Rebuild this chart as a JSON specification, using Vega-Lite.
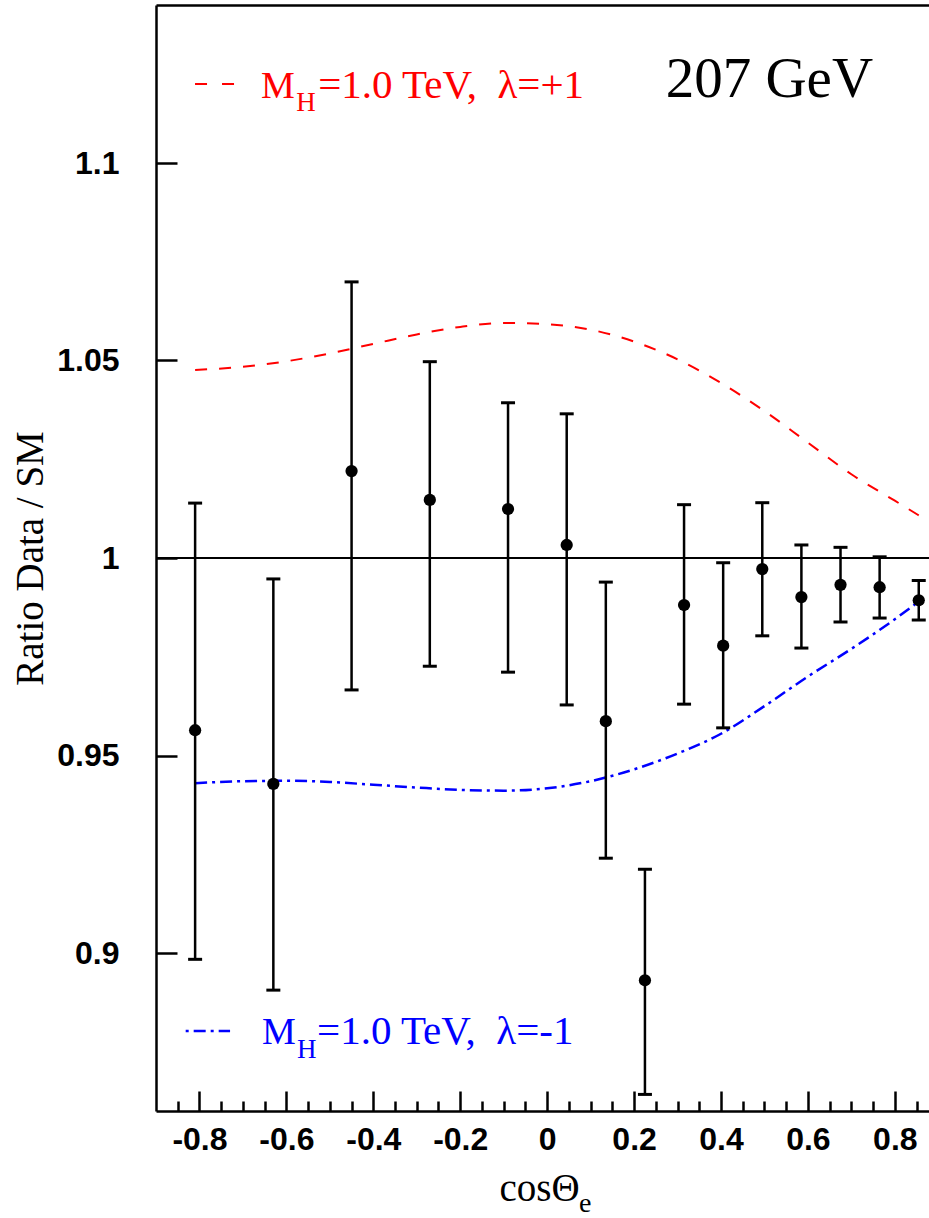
{
  "$schema": "https://vega.github.io/schema/vega-lite/v6.json",
  "width": 773,
  "height": 1106,
  "autosize": {"type": "none"},
  "padding": {"left": 156, "top": 5, "right": 0, "bottom": 107},
  "background": "white",
  "view": {"stroke": null},
  "resolve": {"axis": {"x": "independent", "y": "independent"}},
  "config": {
    "axis": {
      "domainColor": "black", "domainWidth": 2.5, "tickColor": "black", "tickWidth": 2.5, "grid": false,
      "labelFont": "Liberation Sans", "labelFontWeight": "bold", "labelFontSize": 32, "labelColor": "black",
      "titleFont": "Liberation Serif", "titleFontWeight": "normal", "titleFontSize": 39, "titleColor": "black"
    },
    "text": {"font": "Liberation Serif", "align": "left", "baseline": "alphabetic"}
  },
  "layer": [
    {
      "data": {"values": [{"r": 1}]},
      "mark": {"type": "rule", "color": "black", "strokeWidth": 2},
      "encoding": {
        "y": {"field": "r", "type": "quantitative", "scale": {"domain": [0.86, 1.14], "nice": false, "zero": false},
              "axis": {"orient": "left", "domain": true, "ticks": false, "labels": false, "title": null}}
      }
    },
    {
      "data": {"values": [
        {"c": -0.81, "r": 1.0476}, {"c": -0.7, "r": 1.0484}, {"c": -0.6, "r": 1.0498}, {"c": -0.5, "r": 1.0518},
        {"c": -0.4, "r": 1.0542}, {"c": -0.3, "r": 1.0566}, {"c": -0.2, "r": 1.0585}, {"c": -0.1, "r": 1.0595},
        {"c": 0.0, "r": 1.0592}, {"c": 0.1, "r": 1.0578}, {"c": 0.2, "r": 1.0548}, {"c": 0.3, "r": 1.0503},
        {"c": 0.4, "r": 1.0443}, {"c": 0.5, "r": 1.0372}, {"c": 0.6, "r": 1.0292}, {"c": 0.7, "r": 1.0212},
        {"c": 0.8, "r": 1.0145}, {"c": 0.855, "r": 1.0108}
      ]},
      "mark": {"type": "line", "color": "#ff0000", "strokeWidth": 2, "strokeDash": [12, 12], "interpolate": "monotone"},
      "encoding": {
        "x": {"field": "c", "type": "quantitative", "scale": {"domain": [-0.9, 0.8786], "nice": false, "zero": false},
              "axis": {"orient": "top", "domain": true, "ticks": false, "labels": false, "title": null}},
        "y": {"field": "r", "type": "quantitative", "scale": {"domain": [0.86, 1.14], "nice": false, "zero": false}, "axis": null}
      }
    },
    {
      "data": {"values": [
        {"c": -0.81, "r": 0.9430}, {"c": -0.7, "r": 0.9435}, {"c": -0.6, "r": 0.9436}, {"c": -0.5, "r": 0.9433},
        {"c": -0.4, "r": 0.9426}, {"c": -0.3, "r": 0.9419}, {"c": -0.2, "r": 0.9413}, {"c": -0.1, "r": 0.9411},
        {"c": 0.0, "r": 0.9417}, {"c": 0.1, "r": 0.9435}, {"c": 0.2, "r": 0.9465}, {"c": 0.3, "r": 0.9505},
        {"c": 0.4, "r": 0.9555}, {"c": 0.5, "r": 0.9625}, {"c": 0.6, "r": 0.9700}, {"c": 0.7, "r": 0.9770},
        {"c": 0.8, "r": 0.9845}, {"c": 0.855, "r": 0.9890}
      ]},
      "mark": {"type": "line", "color": "#0000ff", "strokeWidth": 2.5, "strokeDash": [12, 5, 3, 5], "interpolate": "monotone"},
      "encoding": {
        "x": {"field": "c", "type": "quantitative", "scale": {"domain": [-0.9, 0.8786], "nice": false, "zero": false},
              "axis": {"orient": "bottom", "domain": false, "labels": false, "title": null, "tickSize": 10, "offset": -10,
                       "values": [-0.85, -0.75, -0.7, -0.65, -0.55, -0.5, -0.45, -0.35, -0.3, -0.25, -0.15, -0.1, -0.05, 0.05, 0.1, 0.15, 0.25, 0.3, 0.35, 0.45, 0.5, 0.55, 0.65, 0.7, 0.75, 0.85]}},
        "y": {"field": "r", "type": "quantitative", "scale": {"domain": [0.86, 1.14], "nice": false, "zero": false}, "axis": null}
      }
    },
    {
      "data": {"name": "pts", "values": [
        {"c": -0.81, "r": 0.9564, "lo": 0.8984, "hi": 1.0139},
        {"c": -0.63, "r": 0.9428, "lo": 0.8906, "hi": 0.9947},
        {"c": -0.45, "r": 1.0220, "lo": 0.9666, "hi": 1.0699},
        {"c": -0.27, "r": 1.0147, "lo": 0.9726, "hi": 1.0497},
        {"c": -0.09, "r": 1.0124, "lo": 0.9711, "hi": 1.0393},
        {"c": 0.045, "r": 1.0033, "lo": 0.9628, "hi": 1.0365},
        {"c": 0.135, "r": 0.9587, "lo": 0.9240, "hi": 0.9939},
        {"c": 0.225, "r": 0.8931, "lo": 0.8642, "hi": 0.9212},
        {"c": 0.315, "r": 0.9881, "lo": 0.9630, "hi": 1.0135},
        {"c": 0.405, "r": 0.9778, "lo": 0.9570, "hi": 0.9988},
        {"c": 0.495, "r": 0.9972, "lo": 0.9803, "hi": 1.0140},
        {"c": 0.585, "r": 0.9901, "lo": 0.9772, "hi": 1.0033},
        {"c": 0.675, "r": 0.9932, "lo": 0.9838, "hi": 1.0027},
        {"c": 0.765, "r": 0.9926, "lo": 0.9848, "hi": 1.0003},
        {"c": 0.855, "r": 0.9893, "lo": 0.9843, "hi": 0.9943}
      ]},
      "mark": {"type": "rule", "color": "black", "strokeWidth": 2.5},
      "encoding": {
        "x": {"field": "c", "type": "quantitative", "scale": {"domain": [-0.9, 0.8786], "nice": false, "zero": false},
              "axis": {
                "orient": "bottom",
                "values": [-0.8, -0.6, -0.4, -0.2, 0, 0.2, 0.4, 0.6, 0.8],
                "domain": false, "tickSize": 20, "offset": -20,
                "labelExpr": "'' + datum.value",
                "labelPadding": 13, "labelFlush": false, "labelOverlap": false,
                "title": "cosΘ", "titleX": 343, "titleY": 109, "titleAlign": "left", "titleBaseline": "alphabetic"
              }},
        "y": {"field": "lo", "type": "quantitative", "scale": {"domain": [0.86, 1.14], "nice": false, "zero": false},
              "axis": {
                "orient": "left",
                "values": [0.9, 0.95, 1, 1.05, 1.1],
                "domain": false, "tickSize": 21, "offset": -21, "labelPadding": 37, "labelExpr": "'' + datum.value", "labelOverlap": false,
                "title": "Ratio Data / SM", "titleX": -135, "titleY": 553, "titleAngle": 270, "titleBaseline": "alphabetic", "titleAlign": "center"
              }},
        "y2": {"field": "hi"}
      }
    },
    {
      "data": {"name": "pts"},
      "mark": {"type": "tick", "orient": "horizontal", "size": 14, "thickness": 3, "color": "black", "opacity": 1},
      "encoding": {
        "x": {"field": "c", "type": "quantitative",
              "axis": {"orient": "bottom", "domain": true, "ticks": false, "labels": false, "title": null}},
        "y": {"field": "hi", "type": "quantitative", "axis": null}
      }
    },
    {
      "data": {"name": "pts"},
      "mark": {"type": "tick", "orient": "horizontal", "size": 14, "thickness": 3, "color": "black", "opacity": 1},
      "encoding": {
        "x": {"field": "c", "type": "quantitative", "axis": null},
        "y": {"field": "lo", "type": "quantitative", "axis": null}
      }
    },
    {
      "data": {"name": "pts"},
      "mark": {"type": "circle", "size": 150, "color": "black", "opacity": 1},
      "encoding": {
        "x": {"field": "c", "type": "quantitative", "axis": null},
        "y": {"field": "r", "type": "quantitative", "axis": null}
      }
    },
    {
      "data": {"values": [{"c": -0.8102, "r": 1.12}, {"c": -0.7204, "r": 1.12}]},
      "mark": {"type": "line", "color": "#ff0000", "strokeWidth": 2, "strokeDash": [12, 15]},
      "encoding": {
        "x": {"field": "c", "type": "quantitative", "axis": null},
        "y": {"field": "r", "type": "quantitative", "axis": null}
      }
    },
    {
      "data": {"values": [{"c": -0.8317, "r": 0.88025}, {"c": -0.7296, "r": 0.88025}]},
      "mark": {"type": "line", "color": "#0000ff", "strokeWidth": 2.5, "strokeDash": [12, 5, 3, 5], "strokeDashOffset": 17},
      "encoding": {
        "x": {"field": "c", "type": "quantitative", "axis": null},
        "y": {"field": "r", "type": "quantitative", "axis": null}
      }
    },
    {
      "data": {"values": [{"c": -0.6583, "r": 1.11646, "t": "M"}]},
      "mark": {"type": "text", "color": "#ff0000", "fontSize": 38},
      "encoding": {
        "x": {"field": "c", "type": "quantitative", "axis": null},
        "y": {"field": "r", "type": "quantitative", "axis": null},
        "text": {"field": "t"}
      }
    },
    {
      "data": {"values": [{"c": -0.5269, "r": 1.11646, "t": "=1.0 TeV,\u00a0 λ=+1"}]},
      "mark": {"type": "text", "color": "#ff0000", "fontSize": 41},
      "encoding": {
        "x": {"field": "c", "type": "quantitative", "axis": null},
        "y": {"field": "r", "type": "quantitative", "axis": null},
        "text": {"field": "t"}
      }
    },
    {
      "data": {"values": [{"c": -0.5775, "r": 1.11316, "t": "H"}]},
      "mark": {"type": "text", "color": "#ff0000", "fontSize": 27},
      "encoding": {
        "x": {"field": "c", "type": "quantitative", "axis": null},
        "y": {"field": "r", "type": "quantitative", "axis": null},
        "text": {"field": "t"}
      }
    },
    {
      "data": {"values": [{"c": -0.656, "r": 0.87696, "t": "M"}]},
      "mark": {"type": "text", "color": "#0000ff", "fontSize": 38},
      "encoding": {
        "x": {"field": "c", "type": "quantitative", "axis": null},
        "y": {"field": "r", "type": "quantitative", "axis": null},
        "text": {"field": "t"}
      }
    },
    {
      "data": {"values": [{"c": -0.5295, "r": 0.87696, "t": "=1.0 TeV,\u00a0 λ=-1"}]},
      "mark": {"type": "text", "color": "#0000ff", "fontSize": 41},
      "encoding": {
        "x": {"field": "c", "type": "quantitative", "axis": null},
        "y": {"field": "r", "type": "quantitative", "axis": null},
        "text": {"field": "t"}
      }
    },
    {
      "data": {"values": [{"c": -0.5755, "r": 0.87342, "t": "H"}]},
      "mark": {"type": "text", "color": "#0000ff", "fontSize": 27},
      "encoding": {
        "x": {"field": "c", "type": "quantitative", "axis": null},
        "y": {"field": "r", "type": "quantitative", "axis": null},
        "text": {"field": "t"}
      }
    },
    {
      "data": {"values": [{"c": 0.2727, "r": 1.1167, "t": "207 GeV"}]},
      "mark": {"type": "text", "color": "black", "fontSize": 57},
      "encoding": {
        "x": {"field": "c", "type": "quantitative", "axis": null},
        "y": {"field": "r", "type": "quantitative", "axis": null},
        "text": {"field": "t"}
      }
    },
    {
      "data": {"values": [{"c": 0.0734, "r": 0.83443, "t": "e"}]},
      "mark": {"type": "text", "color": "black", "fontSize": 28},
      "encoding": {
        "x": {"field": "c", "type": "quantitative", "axis": null},
        "y": {"field": "r", "type": "quantitative", "axis": null},
        "text": {"field": "t"}
      }
    }
  ]
}
